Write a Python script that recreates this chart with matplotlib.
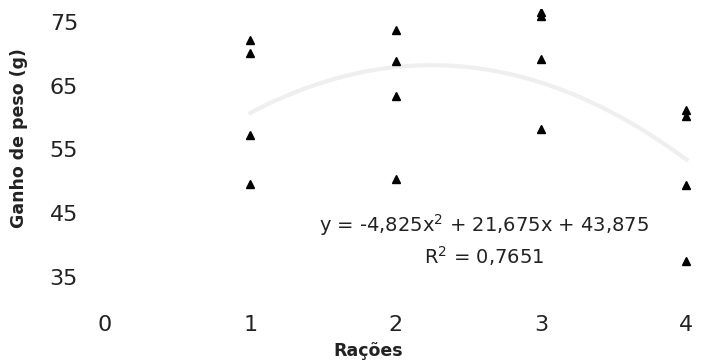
import numpy as np
import matplotlib.pyplot as plt

plt.rcParams['font.family'] = ['DejaVu Sans']

# dados
racoes = [1, 1, 1, 1, 2, 2, 2, 2, 3, 3, 3, 3, 4, 4, 4, 4]
ganho = [72.1, 70.1, 57.3, 49.6,
         73.7, 68.9, 63.3, 50.4,
         76.6, 75.9, 69.2, 58.2,
         61.1, 60.2, 49.4, 37.5]
coef = [-4.825, 21.675, 43.875]  # ax^2 + bx + c
r2 = 0.7651
xticks = [0, 1, 2, 3, 4]
yticks = [35, 45, 55, 65, 75]

fig = plt.figure(figsize=(7.01, 3.61), dpi=100)
W, H = 701, 361
# axes placed in pixels: left, right, top, bottom (from top)
x0, x1 = 90.5, 701
ytop, ybot = 9.25, 308.5
ax = fig.add_axes([x0 / W, 1 - ybot / H, (x1 - x0) / W, (ybot - ytop) / H])

xx = np.linspace(1, 4, 200)
ax.plot(xx, np.polyval(coef, xx), color='#efefef', lw=3, zorder=1)
ax.plot(racoes, ganho, linestyle='none', marker='^', color='black',
        markersize=6, zorder=3)

ax.set_xlim(-0.1, 4.1)
ax.set_ylim(30, 77)
ax.set_xticks(xticks)
ax.set_yticks(yticks)
for s in ax.spines.values():
    s.set_visible(False)
ax.tick_params(length=0, labelsize=16, colors='#222222')
ax.tick_params(axis='x', pad=4.5)
ax.tick_params(axis='y', pad=9)

ax.set_ylabel('Ganho de peso (g)', fontsize=12.5, fontweight='bold',
              color='#222222')
ax.yaxis.set_label_coords(-0.102, 0.57)
ax.set_xlabel('Rações', fontsize=12.5, fontweight='bold', color='#222222')
ax.xaxis.set_label_coords(0.4545, -0.112)

eq = 'y = -4,825x$^2$ + 21,675x + 43,875'
ax.text(2.61, 43.1, eq, fontsize=14, ha='center', va='center', color='#222222')
ax.text(2.61, 38.2, 'R$^2$ = ' + f'{r2}'.replace('.', ','), fontsize=14,
        ha='center', va='center', color='#222222')

fig.savefig('out.png', dpi=100, facecolor='white')
